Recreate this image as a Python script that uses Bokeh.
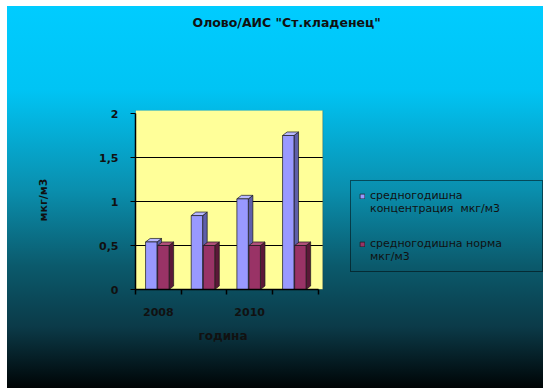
from bokeh.plotting import figure
from bokeh.models import (Range1d, FixedTicker, CustomJSTickFormatter, Legend, LegendItem,
                          Title, BoxAnnotation)
from bokeh.embed import file_html
from bokeh.resources import INLINE

# ---------------- data ----------------
years = [2008, 2009, 2010, 2011]
labeled_years = [2008, 2010]
concentration = [0.54, 0.84, 1.03, 1.75]
norm = [0.5, 0.5, 0.5, 0.5]
y_ticks = [0, 0.5, 1, 1.5, 2]
y_tick_labels = ["0", "0,5", "1", "1,5", "2"]
title_text = 'Олово/АИС "Ст.кладенец"'
x_title = "година"
y_title = "мкг/м3"
conc_label = ["средногодишна", "концентрация  мкг/м3"]
norm_label = ["средногодишна норма", "мкг/м3"]

# ---------------- style ----------------
FONT = "DejaVu Sans"
BAR_W = 0.25
OFF_CONC = -0.155
OFF_NORM = 0.11
DX = 0.1    # 3-D depth (x, in years)
DY = 0.04   # 3-D depth (y, in value units)

x_lo = years[0] - 0.5
x_hi = years[-1] + 0.5
y_hi = y_ticks[-1]

p = figure(width=536, height=382, output_backend="svg", toolbar_location=None,
           x_range=Range1d(x_lo, x_lo + 408 / 45.67), y_range=Range1d(0, 179 / 88.0),
           min_border_left=128, min_border_right=0, min_border_top=104,
           min_border_bottom=99)
p.margin = (6, 0, 0, 7)
p.styles = {"background": "linear-gradient(180deg, #00ccff 0%, #00c4f4 22%, #0a8fae 48%, "
                          "#0b5a6c 68%, #0b3a48 84%, #000405 100%)"}
p.border_fill_color = None
p.background_fill_color = None
p.outline_line_color = None

# back wall (plot area)
p.add_layout(BoxAnnotation(left=x_lo, right=x_hi + DX, bottom=0, top=y_hi + DY,
                           fill_color="#FFFF99", fill_alpha=1, line_color="#333333",
                           line_width=1, level="underlay"))
grid_vals = y_ticks[1:-1]
p.segment(x0=[x_lo] * len(grid_vals), x1=[x_hi + DX] * len(grid_vals),
          y0=grid_vals, y1=grid_vals, line_color="black", line_width=1)

# bars with 3-D faces
def faces(centers, tops):
    sx, sy, tx, ty = [], [], [], []
    for c, t in zip(centers, tops):
        l, r = c - BAR_W / 2, c + BAR_W / 2
        sx.append([r, r + DX, r + DX, r]); sy.append([0, DY, t + DY, t])
        tx.append([l, l + DX, r + DX, r]); ty.append([t, t + DY, t + DY, t])
    return sx, sy, tx, ty

def draw_series(offset, vals, front, side, top):
    centers = [y + offset for y in years]
    sx, sy, tx, ty = faces(centers, vals)
    p.patches(sx, sy, fill_color=side, line_color="#1a1a1a", line_width=0.7)
    p.patches(tx, ty, fill_color=top, line_color="#1a1a1a", line_width=0.7)
    return p.vbar(x=centers, top=vals, bottom=0, width=BAR_W, fill_color=front,
                  line_color="#1a1a1a", line_width=0.7)

conc_r = draw_series(OFF_CONC, concentration, "#9999FF", "#5e5eaa", "#b8b8ff")
norm_r = draw_series(OFF_NORM, norm, "#993366", "#5a1838", "#b0507a")

# axes
p.yaxis.ticker = FixedTicker(ticks=y_ticks)
p.yaxis.formatter = CustomJSTickFormatter(args=dict(yt=y_ticks, yl=y_tick_labels),
    code="const i = yt.indexOf(tick); return i >= 0 ? yl[i] : '';")
p.yaxis.bounds = (0, y_hi)
p.xaxis.ticker = FixedTicker(ticks=labeled_years,
                             minor_ticks=[y - 0.5 for y in years] + [years[-1] + 0.5])
p.xaxis.formatter = CustomJSTickFormatter(code="return tick.toFixed(0);")
p.xaxis.bounds = (x_lo, x_hi)

for ax in (p.xaxis[0], p.yaxis[0]):
    ax.axis_line_color = "black"
    ax.axis_line_width = 1.5
    ax.major_label_text_font = FONT
    ax.major_label_text_font_size = "11px"
    ax.major_label_text_font_style = "bold"
    ax.major_label_text_color = "#111111"
    ax.axis_label_text_font = FONT
    ax.axis_label_text_font_size = "11px"
    ax.axis_label_text_font_style = "bold"
    ax.axis_label_text_color = "#111111"

p.yaxis.major_tick_out = 5
p.yaxis.major_tick_in = 0
p.yaxis.major_tick_line_color = "black"
p.yaxis.minor_tick_line_color = None
p.yaxis.major_label_standoff = 12
p.yaxis.axis_label = y_title
p.yaxis.axis_label_standoff = 46

p.xaxis.major_tick_line_color = None
p.xaxis.minor_tick_line_color = "black"
p.xaxis.minor_tick_line_width = 1.5
p.xaxis.minor_tick_out = 5
p.xaxis.minor_tick_in = 0
p.xaxis.major_label_standoff = 12

p.xgrid.grid_line_color = None
p.ygrid.grid_line_color = None

# chart title: a blank spacer next to the frame, then the title above it
p.add_layout(Title(text=" ", text_font_size="1px", standoff=73), "above")
p.add_layout(Title(text=title_text, align="left", offset=57, standoff=10,
                   text_font=FONT, text_font_size="12.5px", text_font_style="bold",
                   text_color="#111111"), "above")

# x-axis title
p.add_layout(Title(text=x_title, align="left", offset=63, vertical_align="top",
                   standoff=20, text_font=FONT, text_font_size="12px",
                   text_font_style="bold", text_color="#111111"), "below")

# legend
dummy = p.vbar(x=[], top=[], width=0.1, fill_alpha=0, line_alpha=0)
items = [
    LegendItem(label=conc_label[0], renderers=[conc_r]),
    LegendItem(label=conc_label[1], renderers=[dummy]),
    LegendItem(label=" ", renderers=[dummy]),
    LegendItem(label=" ", renderers=[dummy]),
    LegendItem(label=norm_label[0], renderers=[norm_r]),
    LegendItem(label=norm_label[1], renderers=[dummy]),
]
legend = Legend(items=items, location=(215, 17), glyph_width=6, glyph_height=6,
                label_standoff=5, padding=8, spacing=0, margin=0,
                border_line_color="black", border_line_width=1.5,
                background_fill_alpha=0, label_text_font=FONT,
                label_text_font_size="11px", label_text_color="#111111",
                label_width=164, label_height=11)
p.add_layout(legend, "center")

open("out.html", "w").write(file_html(p, INLINE))
